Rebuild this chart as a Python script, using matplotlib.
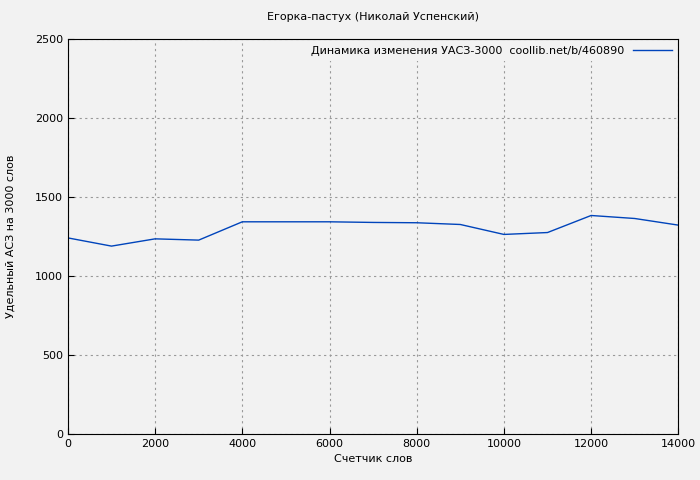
import matplotlib
matplotlib.use("Agg")
import matplotlib.pyplot as plt

words = [0, 1000, 2000, 3000, 4000, 5000, 6000, 7000, 8000, 9000, 10000, 11000, 12000, 13000, 14000]
uasz = [1242, 1190, 1236, 1228, 1344, 1344, 1344, 1340, 1338, 1327, 1264, 1276, 1384, 1365, 1323]

fig = plt.figure(figsize=(7, 4.8), dpi=100)
fig.patch.set_facecolor("#f2f2f2")
ax = fig.add_axes([0.097, 0.096, 0.872, 0.822])
ax.set_facecolor("#f2f2f2")
ax.plot(words, uasz, color="#0044bb", lw=1,
        label="Динамика изменения УАСЗ-3000  coollib.net/b/460890")
ax.set_xlim(0, 14000)
ax.set_ylim(0, 2500)
ax.set_xticks(range(0, 14001, 2000))
ax.set_yticks(range(0, 2501, 500))
ax.grid(color="#999999", ls=(0, (2, 3)), lw=0.8)
ax.tick_params(labelsize=8, direction="in", length=4)
ax.set_title("Егорка-пастух (Николай Успенский)", fontsize=8, pad=14)
ax.set_xlabel("Счетчик слов", fontsize=8)
ax.set_ylabel("Удельный АСЗ на 3000 слов", fontsize=8, labelpad=14)
leg = ax.legend(loc="upper right", fontsize=8, frameon=True, markerfirst=False,
                handlelength=3.5, facecolor="#f2f2f2", edgecolor="none",
                framealpha=1, fancybox=False, borderaxespad=0.2)
fig.savefig("out.png")
